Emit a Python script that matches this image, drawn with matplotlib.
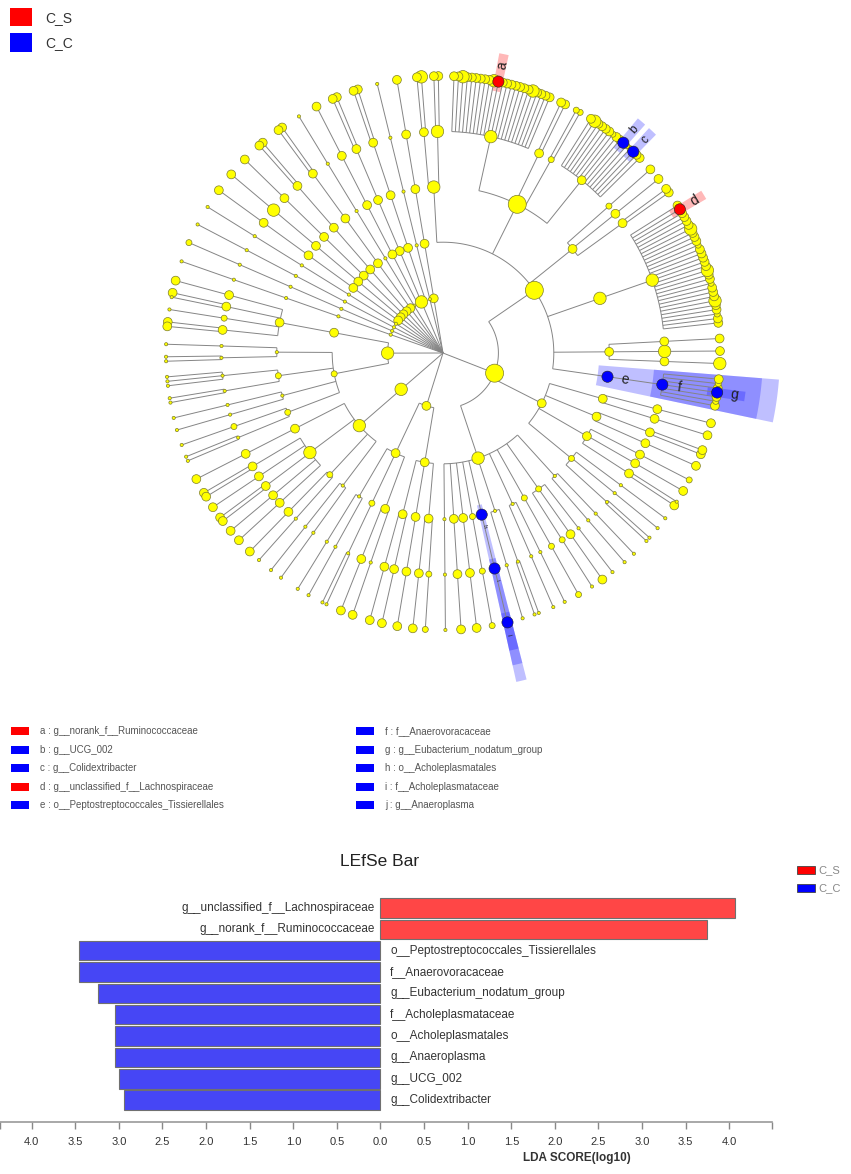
import numpy as np
import matplotlib
matplotlib.use('Agg')
import matplotlib.pyplot as plt
from matplotlib.patches import Rectangle, Circle, Polygon
from matplotlib.collections import LineCollection, PatchCollection
from matplotlib import font_manager

names_avail = {f.name for f in font_manager.fontManager.ttflist}
NARROW = 'Liberation Sans Narrow' if 'Liberation Sans Narrow' in names_avail else 'Liberation Sans'
plt.rcParams['font.family'] = ['Liberation Sans', 'DejaVu Sans']

# ---------------- data ----------------
group_names = ['C_S', 'C_C']
group_colors = ['#FF0000', '#0000FF']

biomarker_letters = ['a', 'b', 'c', 'd', 'e', 'f', 'g', 'h', 'i', 'j']
biomarker_names = ['g__norank_f__Ruminococcaceae', 'g__UCG_002', 'g__Colidextribacter',
                   'g__unclassified_f__Lachnospiraceae', 'o__Peptostreptococcales_Tissierellales',
                   'f__Anaerovoracaceae', 'g__Eubacterium_nodatum_group', 'o__Acholeplasmatales',
                   'f__Acholeplasmataceae', 'g__Anaeroplasma']
biomarker_groups = ['C_S', 'C_C', 'C_C', 'C_S', 'C_C', 'C_C', 'C_C', 'C_C', 'C_C', 'C_C']

lda_taxa = ['g__unclassified_f__Lachnospiraceae', 'g__norank_f__Ruminococcaceae',
            'o__Peptostreptococcales_Tissierellales', 'f__Anaerovoracaceae',
            'g__Eubacterium_nodatum_group', 'f__Acholeplasmataceae', 'o__Acholeplasmatales',
            'g__Anaeroplasma', 'g__UCG_002', 'g__Colidextribacter']
lda_scores = [4.07, 3.75, 3.46, 3.46, 3.24, 3.05, 3.05, 3.05, 3.00, 2.94]
lda_groups = ['C_S', 'C_S', 'C_C', 'C_C', 'C_C', 'C_C', 'C_C', 'C_C', 'C_C', 'C_C']
lda_ticks = [-4.0, -3.5, -3.0, -2.5, -2.0, -1.5, -1.0, -0.5, 0.0, 0.5, 1.0, 1.5, 2.0, 2.5, 3.0, 3.5, 4.0]

# cladogram: node = [size_or_letter, children...]; genus = size_or_letter
firmicutes = [4,
    [3,
        [0, [0, 0]],
        [2, [2, 2]],
        [2, [2, 2]],
        [1, [1, 1]],
        ['h', ['i', 'j']],
        [0, [0, 0], [0, 0, 0]],
        [0, [0, 0], [0, 0]],
        [1, [1, 1]],
        [1, [1, 0], [2, 2], [0, 0]],
        [0, [0, 0], [0, 0]],
    ],
    [2,
        [1, [0, 0, 0], [0, 0], [0, 0]],
        [2, [2, 2, 0], [2, 2], [2, 1]],
        [2, [2, 2], [2, 2, 2]],
        [2, [2, 2], [2, 2]],
    ],
    [4,
        ['e', ['f', 2, 1, 2, 'g', 2, 1, 2]],
        [2, [2, 3], [3, 2], [2, 2]],
        [3, [3, 2, 2, 1, 2, 2, 3, 2, 2, 2, 1, 2, 2, 3, 2, 2, 2, 2, 2, 1, 2, 2, 2, 3, 2, 2, 2, 2, 'd', 2]],
        [2, [2, 2, 2], [2, 2], [1, 2]],
        [4, [2, 2, 2, 'c', 1, 1, 'b', 2, 2, 1, 2, 2, 2, 2, 3, 2], [1, 1, 1], [2, 2, 2],
            [3, 2, 2, 2, 2, 3, 2, 2, 2, 2, 2, 2, 2, 'a', 3, 2, 2, 2, 2, 2, 2, 3, 2, 2]],
        [3, [3, 2, 2], [2, 3, 2]],
    ],
]
phylum_d1 = [2, [2, [2, [2, 2]]]]
phylum_d2 = [0, [0, [0, [0, 0]]]]
phylum_d3 = [3, [2, [2, [2, 2, 2]]], [2, [2, [2, 2, 2]]], [2, [2, [2, 2]]]]
phylum_d4 = [0, [0, [0, [0, 0]]]]
phylum_d5 = [2, [2, [2, [2, 2, 2]]]]
phylum_d6 = [2, [2, [2, [2, 2, 2]]]]
phylum_d7 = [2, [2, [2, [2, 2]]]]
phylum_d8 = [2, [2, [2, [3, 2]]]]
phylum_d9 = [2, [2, [2, [2, 2]]]]
phylum_d10 = [0, [0, [0, [0, 0]]]]
phylum_d11 = [0, [0, [0, [0, 0]]]]
phylum_d12 = [0, [0, [0, [0, 1]]]]
phylum_d13 = [0, [0, [0, [0, 0]]]]
phylum_e = [3,
    [2, [2, [2, 2], [2, 2, 0], [1, 0], [2, 2, 2]]],
    [1, [0, [0, 0], [0, 0, 0]], [1, [0, 0, 0, 0], [0, 0, 0]], [0, [0, 0], [0, 0]], [1, [1, 0], [0, 0, 0]]],
]
phylum_f = [3,
    [3, [2, [2, 2]], [3, [2, 2, 2], [2, 2], [2, 2, 2], [2, 2], [2, 2]], [1, [2, 2], [0, 0]], [0, [0, 0], [0, 0]]],
]
phylum_g = [2,
    [2, [0, [0, 0], [0, 0]], [1, [0, 0, 0]], [2, [2, 2], [0, 2]]],
    [2, [2, [2, 2], [2, 2]], [2, [2, 2]], [2, [2, 2], [1, 1]]],
]
phyla = [firmicutes, phylum_d1, phylum_d2, phylum_d3, phylum_d4, phylum_d5, phylum_d6,
         phylum_d7, phylum_d8, phylum_d9, phylum_d10, phylum_d11, phylum_d12, phylum_d13,
         phylum_e, phylum_f, phylum_g]

# ---------------- layout constants ----------------
W, H = 851, 1174
CX, CY = 443.0, 353.0
STEP = 55.4
START = -89.5
GAP = {1: 3.5, 2: 3.0, 3: 2.5, 4: 1.8, 5: 0.0}
SIZE_PX = {0: 1.6, 1: 3.0, 2: 4.4, 3: 6.2, 4: 9.0}
LINE_C = '#858585'

fig = plt.figure(figsize=(W / 100, H / 100), dpi=100)
ax = fig.add_axes([0, 0, 1, 1])
ax.set_xlim(0, W)
ax.set_ylim(H, 0)
ax.axis('off')

# ---------------- tree layout ----------------
cursor = [0.0]
all_nodes = []


def place(item, depth, first):
    if not first:
        cursor[0] += GAP[depth]
    if isinstance(item, list):
        head, kids = item[0], item[1:]
        cn = [place(k, depth + 1, i == 0) for i, k in enumerate(kids)]
        pos = float(np.mean([c['pos'] for c in cn]))
        lo = min(c['lo'] for c in cn)
        hi = max(c['hi'] for c in cn)
    else:
        head, cn = item, []
        pos = cursor[0] + 0.5
        cursor[0] += 1.0
        lo = hi = pos
    nd = dict(depth=depth, head=head, kids=cn, pos=pos, lo=lo, hi=hi)
    all_nodes.append(nd)
    return nd


root_kids = [place(p, 1, i == 0) for i, p in enumerate(phyla)]
total = cursor[0] + GAP[1]
UNIT = 360.0 / total


def ang(pos):
    return START + (pos - 0.5) * UNIT


def pxy(r, th):
    t = np.deg2rad(th)
    return CX + r * np.cos(t), CY - r * np.sin(t)


root = dict(depth=0, head=0, kids=root_kids, pos=0, lo=0, hi=0)

# ---------------- lines ----------------
segs = []
for nd in all_nodes + [root]:
    if not nd['kids']:
        continue
    rp = nd['depth'] * STEP
    angs = [ang(k['pos']) for k in nd['kids']]
    if rp > 0 and len(angs) > 1:
        th = np.linspace(min(angs), max(angs), 60)
        x, y = pxy(rp, th)
        segs.append(np.column_stack([x, y]))
    for k, a in zip(nd['kids'], angs):
        x0, y0 = pxy(rp, a)
        x1, y1 = pxy(k['depth'] * STEP, a)
        segs.append(np.array([[x0, y0], [x1, y1]]))
ax.add_collection(LineCollection(segs, colors=LINE_C, linewidths=0.7, zorder=2))

# ---------------- highlight bands ----------------
letter_col = {l: group_colors[group_names.index(g)] for l, g in zip(biomarker_letters, biomarker_groups)}
OUTER = {5: 305.0, 4: 320.0, 3: 337.0, 2: 345.0}
for nd in all_nodes:
    if isinstance(nd['head'], str):
        col = letter_col[nd['head']]
        r_in = nd['depth'] * STEP - 10
        r_out = OUTER[nd['depth']]
        a0 = ang(nd['lo']) - 0.9
        a1 = ang(nd['hi']) + 0.9
        th = np.linspace(a0, a1, 30)
        xo, yo = pxy(r_out, th)
        xi, yi = pxy(r_in, th[::-1])
        poly = Polygon(np.column_stack([np.r_[xo, xi], np.r_[yo, yi]]), closed=True,
                       fc=col, ec='none', alpha=0.25 if col == '#0000FF' else 0.28, zorder=1)
        ax.add_patch(poly)

# ---------------- circles and letters ----------------
circles = []
for nd in all_nodes:
    x, y = pxy(nd['depth'] * STEP, ang(nd['pos']))
    if isinstance(nd['head'], str):
        col = letter_col[nd['head']]
        ax.add_patch(Circle((x, y), 5.6, fc=col, ec='#202020', lw=0.4, zorder=4))
        a = ang(nd['pos'])
        small = nd['head'] in ('h', 'i', 'j')
        tight = nd['head'] in ('b', 'c')
        off = 12 if small else 17
        lx, ly = pxy(nd['depth'] * STEP + off, a)
        ax.text(lx, ly, nd['head'], fontsize=4.5 if small else (8.5 if tight else 10), color='#202020',
                rotation=a, rotation_mode='anchor', ha='center', va='center', zorder=5)
    else:
        circles.append(Circle((x, y), SIZE_PX[nd['head']]))
ax.add_collection(PatchCollection(circles, facecolor='#FFFF00', edgecolor='#7d7d2e',
                                  linewidths=0.5, zorder=3))

# ---------------- top-left legend ----------------
ax.add_patch(Rectangle((10, 8), 22, 18, fc=group_colors[0], ec='none'))
ax.add_patch(Rectangle((10, 33), 22, 19, fc=group_colors[1], ec='none'))
ax.text(45, 18, group_names[0], fontsize=10, va='center', ha='left', color='#333333')
ax.text(45, 43, group_names[1], fontsize=10, va='center', ha='left', color='#333333')

# ---------------- biomarker legend ----------------
for i, (l, n, g) in enumerate(zip(biomarker_letters, biomarker_names, biomarker_groups)):
    col_i, row = divmod(i, 5)
    bx = 11 if col_i == 0 else 356
    yy = 731 + row * 18.6
    ax.add_patch(Rectangle((bx, yy - 4), 18, 8, fc=group_colors[group_names.index(g)], ec='none'))
    ax.text(bx + 29, yy, f'{l} : {n}', fontsize=7.0, va='center', ha='left', color='#555555',
            family=[NARROW, 'DejaVu Sans'])

# ---------------- LEfSe bar chart ----------------
X0, PXU = 380.5, 87.2
AX_L, AX_R, AX_T, AX_B = 0, 772, 893, 1122
bax = fig.add_axes([AX_L / W, 1 - AX_B / H, (AX_R - AX_L) / W, (AX_B - AX_T) / H])
bax.patch.set_alpha(0)
bax.set_xlim((AX_L - X0) / PXU, (AX_R - X0) / PXU)
pitch = 21.35
n = len(lda_taxa)
top_off = (908 - AX_T) / pitch
bax.set_ylim((AX_B - AX_T) / pitch - top_off, -top_off)
signed = [s if g == 'C_S' else -s for s, g in zip(lda_scores, lda_groups)]
bcols = ['#FF4646' if g == 'C_S' else '#4646F5' for g in lda_groups]
bax.barh(np.arange(n), signed, height=0.91, color=bcols, edgecolor='#707070', linewidth=0.8)
for i, (t, v) in enumerate(zip(lda_taxa, signed)):
    if v > 0:
        bax.text(-0.07, i, t, ha='right', va='center', fontsize=8.5, color='#333333',
                 family=[NARROW, 'DejaVu Sans'])
    else:
        bax.text(0.11, i, t, ha='left', va='center', fontsize=8.5, color='#333333',
                 family=[NARROW, 'DejaVu Sans'])
for s in ['top', 'right', 'left']:
    bax.spines[s].set_visible(False)
bax.spines['bottom'].set_color('#9a9a9a')
bax.spines['bottom'].set_linewidth(1.2)
bax.set_yticks([])
bax.set_xticks(lda_ticks)
bax.set_xticklabels([f'{abs(t):.1f}' for t in lda_ticks], fontsize=8, color='#333333',
                    family=[NARROW, 'DejaVu Sans'])
bax.set_xticks(list(bax.get_xlim()), minor=True)
bax.tick_params(axis='x', which='both', direction='out', length=5, width=1, color='#888888', pad=6)
fig.text(577 / W, 1 - 1158 / H, 'LDA SCORE(log10)', ha='center', va='center', fontsize=8.5,
         fontweight='bold', color='#333333', family=[NARROW, 'DejaVu Sans'])
fig.text(380 / W, 1 - 862 / H, 'LEfSe Bar', ha='center', va='center', fontsize=12.5, color='#222222')

# bar legend
for k, (gname, gcol) in enumerate(zip(group_names, ['#FF0000', '#0000FF'])):
    yy = 870 + k * 18
    ax.add_patch(Rectangle((797, yy - 4), 18, 8, fc=gcol, ec='#444444', lw=0.6))
    ax.text(818, yy, gname, fontsize=8, va='center', ha='left', color='#888888')

fig.savefig('out.png', dpi=100)
